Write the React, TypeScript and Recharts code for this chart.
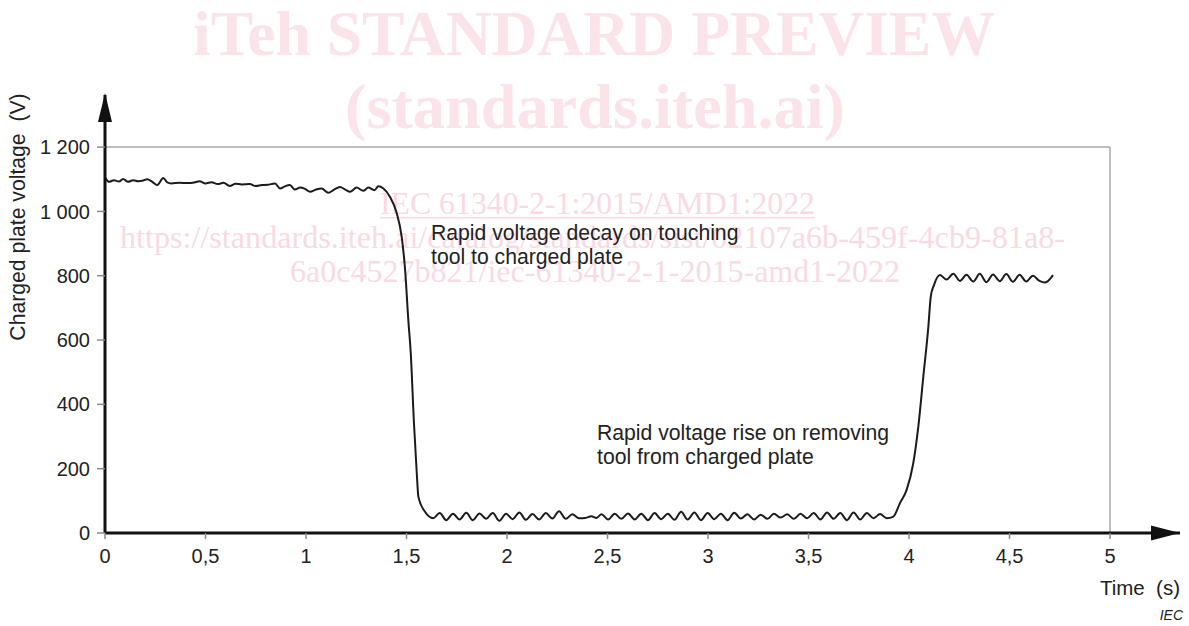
import React from 'react';
import { LineChart, Line, XAxis, YAxis, ReferenceLine, ReferenceDot } from 'recharts';

// trace, piece by piece: time (s) / charged plate voltage (V)
const chargedTimes = [
  0, 0.02, 0.045, 0.07, 0.09, 0.115, 0.14, 0.165, 0.19, 0.21, 0.235, 0.26, 0.29, 0.31, 0.33,
  0.37, 0.41, 0.45, 0.47, 0.5, 0.53, 0.56, 0.59, 0.62, 0.65, 0.68, 0.72, 0.75, 0.78, 0.81,
  0.846, 0.871, 0.895, 0.92, 0.945, 0.97, 0.995, 1.02, 1.05, 1.078, 1.111, 1.14, 1.169, 1.195,
  1.219, 1.252, 1.285, 1.31, 1.34, 1.36, 1.385,
];
const chargedVolts = [
  1106, 1092, 1097, 1093, 1101, 1092, 1097, 1094, 1096, 1100, 1092, 1082, 1104, 1090, 1087,
  1089, 1088, 1091, 1094, 1087, 1091, 1085, 1089, 1079, 1086, 1084, 1085, 1079, 1082, 1083,
  1087, 1071, 1078, 1082, 1068, 1074, 1070, 1061, 1068, 1071, 1058, 1068, 1076, 1068,
  1061, 1074, 1064, 1074, 1066, 1078, 1071,
];

const decayTimes = [1.418, 1.451, 1.476, 1.493, 1.509, 1.521, 1.537, 1.551, 1.559, 1.592];
const decayVolts = [1045, 995, 921, 818, 662, 560, 342, 186, 113, 66];

const touchTimes = [
  1.633, 1.665, 1.698, 1.731, 1.764, 1.797, 1.83, 1.863, 1.896, 1.929, 1.962, 1.995, 2.028,
  2.061, 2.094, 2.127, 2.16, 2.193, 2.226, 2.259, 2.292, 2.325, 2.358, 2.39, 2.42, 2.445,
  2.47, 2.503, 2.536, 2.569, 2.602, 2.635, 2.668, 2.701, 2.734, 2.767, 2.8, 2.833, 2.866,
  2.899, 2.932, 2.965, 2.998, 3.031, 3.064, 3.097, 3.13, 3.163, 3.196, 3.229, 3.262, 3.295,
  3.328, 3.361, 3.394, 3.427, 3.46, 3.493, 3.526, 3.559, 3.592, 3.625, 3.658, 3.691, 3.724,
  3.757, 3.79, 3.823, 3.856, 3.889, 3.922,
];
const touchVolts = [
  46, 62, 40, 60, 42, 63, 40, 61, 44, 62, 38, 60, 43,
  64, 41, 59, 42, 62, 45, 68, 44, 58, 46, 47, 52, 47,
  58, 42, 60, 44, 61, 42, 60, 40, 62, 43, 60, 41, 66,
  42, 64, 40, 62, 43, 60, 40, 63, 45, 58, 42, 57, 44,
  60, 48, 58, 44, 60, 46, 62, 42, 64, 44, 62, 40, 64,
  42, 62, 46, 59, 46, 51,
];

const riseTimes = [3.955, 3.988, 4.021, 4.046, 4.071, 4.096, 4.108, 4.124];
const riseVolts = [93, 134, 217, 330, 486, 641, 735, 771];

const releasedTimes = [
  4.154, 4.187, 4.22, 4.253, 4.286, 4.319, 4.352, 4.385, 4.418, 4.451, 4.484, 4.517, 4.55,
  4.583, 4.616, 4.649, 4.677, 4.716,
];
const releasedVolts = [
  802, 788, 806, 784, 803, 782, 806, 780, 804, 783, 805, 781, 803,
  782, 800, 784, 779, 802,
];

const xTicks = [0, 0.5, 1, 1.5, 2, 2.5, 3, 3.5, 4, 4.5, 5];
const yTicks = [0, 200, 400, 600, 800, 1000, 1200];

const X_MAX = 5.348; // arrow tip of the time axis
const Y_MAX = 1362; // arrow tip of the voltage axis

const segments: [number[], number[]][] = [
  [chargedTimes, chargedVolts],
  [decayTimes, decayVolts],
  [touchTimes, touchVolts],
  [riseTimes, riseVolts],
  [releasedTimes, releasedVolts],
];
const data = segments.flatMap(([ts, vs]) => ts.map((t, i) => ({ t, v: vs[i] })));

const font = '"Liberation Sans", Arial, sans-serif';
const serif = '"Liberation Serif", "Times New Roman", serif';
const ink = '#222';
const frame = '#a8a8a8';

const fmtX = (v: number) => String(v).replace('.', ',');
const fmtY = (v: number) =>
  v >= 1000 ? `${Math.floor(v / 1000)} ${String(v % 1000).padStart(3, '0')}` : String(v);

const upArrow = (p: any) => (
  <path d={`M${p.cx},${p.cy - 2} L${p.cx - 7},${p.cy + 27} L${p.cx + 7},${p.cy + 27} Z`} fill="#111" />
);
const rightArrow = (p: any) => (
  <path d={`M${p.cx},${p.cy} L${p.cx - 29},${p.cy - 7.5} L${p.cx - 29},${p.cy + 7.5} Z`} fill="#111" />
);

const Backdrop = () => (
  <svg width={1189} height={626} style={{ position: 'absolute', left: 0, top: 0 }}>
    <g fill="#fbe3ea" fontFamily={serif}>
      <text x={193} y={55} fontSize={63} fontWeight="bold" textLength={802} lengthAdjust="spacingAndGlyphs">
        iTeh STANDARD PREVIEW
      </text>
      <text x={345} y={128} fontSize={64} fontWeight="bold" textLength={500} lengthAdjust="spacingAndGlyphs">
        (standards.iteh.ai)
      </text>
    </g>
    <g fill="#f9dae3" fontFamily={serif} fontSize={31}>
      <text x={380} y={214} textLength={435} lengthAdjust="spacingAndGlyphs">
        IEC 61340-2-1:2015/AMD1:2022
      </text>
      <rect x={380} y={217} width={435} height={1.5} />
      <text x={120} y={248} textLength={945} lengthAdjust="spacingAndGlyphs">
        https://standards.iteh.ai/catalog/standards/sist/02107a6b-459f-4cb9-81a8-
      </text>
      <text x={290} y={282} textLength={610} lengthAdjust="spacingAndGlyphs">
        6a0c4527b821/iec-61340-2-1-2015-amd1-2022
      </text>
    </g>
    <g fill={ink} fontFamily={font} fontSize={21.2}>
      <text x={431} y={240}>Rapid voltage decay on touching</text>
      <text x={431} y={264}>tool to charged plate</text>
      <text x={597} y={440}>Rapid voltage rise on removing</text>
      <text x={597} y={464}>tool from charged plate</text>
      <text x={1180} y={595} textAnchor="end" fontSize={20.5} xmlSpace="preserve">Time  (s)</text>
      <text x={25} y={217} textAnchor="middle" transform="rotate(-90 25 217)" xmlSpace="preserve">
        Charged plate voltage  (V)
      </text>
      <text x={1183} y={620} textAnchor="end" fontSize={14} fontStyle="italic">IEC</text>
    </g>
  </svg>
);

export default function App() {
  return (
    <div style={{ position: 'absolute', left: 0, top: 0, width: 1189, height: 626, background: '#fff' }}>
      <Backdrop />
      <div style={{ position: 'absolute', left: 0, top: 0 }}>
        <LineChart width={1189} height={626} data={data} margin={{ top: 95, right: 9, bottom: 53, left: 45 }}>
          <XAxis
            type="number"
            dataKey="t"
            domain={[0, X_MAX]}
            ticks={xTicks}
            interval={0}
            tickFormatter={fmtX}
            height={40}
            axisLine={{ stroke: '#111', strokeWidth: 3 }}
            tickLine={{ stroke: '#8a8a8a', strokeWidth: 1.5 }}
            tickSize={6}
            tickMargin={10}
            tick={{ fill: ink, fontSize: 20, fontFamily: font }}
            allowDataOverflow
          />
          <YAxis
            type="number"
            domain={[0, Y_MAX]}
            ticks={yTicks}
            interval={0}
            tickFormatter={fmtY}
            width={60}
            axisLine={{ stroke: '#111', strokeWidth: 3 }}
            tickLine={{ stroke: '#8a8a8a', strokeWidth: 1.5 }}
            tickSize={8}
            tickMargin={7}
            tick={{ fill: ink, fontSize: 20, fontFamily: font }}
            allowDataOverflow
          />
          <ReferenceLine segment={[{ x: 0, y: 1200 }, { x: 5, y: 1200 }]} stroke={frame} strokeWidth={1.5} />
          <ReferenceLine segment={[{ x: 5, y: 0 }, { x: 5, y: 1200 }]} stroke={frame} strokeWidth={1.5} />
          <Line
            dataKey="v"
            type="monotone"
            dot={false}
            stroke="#1b1b1b"
            strokeWidth={2}
            isAnimationActive={false}
          />
          <ReferenceDot x={0} y={Y_MAX} r={1} ifOverflow="visible" shape={upArrow} />
          <ReferenceDot x={X_MAX} y={0} r={1} ifOverflow="visible" shape={rightArrow} />
        </LineChart>
      </div>
    </div>
  );
}
